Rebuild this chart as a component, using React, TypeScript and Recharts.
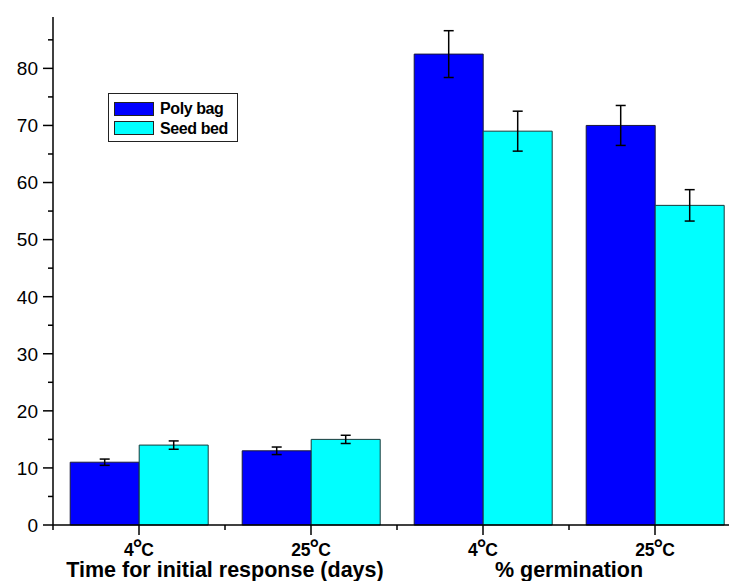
import React from 'react';
import { BarChart, Bar, XAxis, YAxis, ErrorBar, Legend } from 'recharts';

const categories = ['4°C', '25°C', '4°C', '25°C'];
const groupTitles = ['Time for initial response (days)', '% germination'];
const polyBag = [11, 13, 82.5, 70];
const polyBagErr = [0.55, 0.66, 4.1, 3.5];
const seedBed = [14, 15, 69, 56];
const seedBedErr = [0.73, 0.72, 3.5, 2.75];
const yTicks = [0, 5, 10, 15, 20, 25, 30, 35, 40, 45, 50, 55, 60, 65, 70, 75, 80, 85];
const yLabelStep = 10;

const FONT = '"Liberation Sans", Arial, Helvetica, sans-serif';

const data = categories.map((label, i) => ({
  label,
  polyBag: polyBag[i],
  polyBagErr: polyBagErr[i],
  seedBed: seedBed[i],
  seedBedErr: seedBedErr[i],
}));

const YTick = (props: any) => {
  const { x, y, payload } = props;
  const v = payload.value;
  const major = v % yLabelStep === 0;
  const len = major ? 10 : 5;
  return (
    <g>
      <line x1={x - len} x2={x} y1={y} y2={y} stroke="#000" strokeWidth={1.5} />
      {major && (
        <text x={x - len - 5} y={y} dy="0.36em" textAnchor="end" fontSize={19} fill="#000" fontFamily={FONT}>
          {v}
        </text>
      )}
    </g>
  );
};

const XTick = (props: any) => {
  const { x, y, payload, index } = props;
  const half = payload.offset ?? 0;
  const label: string = String(payload.value);
  const parts = label.split('°');
  return (
    <g>
      <line x1={x} x2={x} y1={y} y2={y + 10} stroke="#000" strokeWidth={1.5} />
      <line x1={x - half} x2={x - half} y1={y} y2={y + 5} stroke="#000" strokeWidth={1.5} />
      {index === categories.length - 1 && (
        <line x1={x + half} x2={x + half} y1={y} y2={y + 5} stroke="#000" strokeWidth={1.5} />
      )}
      <text x={x} y={y + 30.5} textAnchor="middle" fontSize={17.5} fontWeight="bold" fill="#000" fontFamily={FONT}>
        <tspan>{parts[0]}</tspan>
        {parts.length > 1 && <tspan fontSize={24} dx={-1}>°</tspan>}
        {parts.length > 1 && <tspan dx={-1}>{parts[1]}</tspan>}
      </text>
      {index % 2 === 0 && (
        <text x={x + half} y={y + 52} textAnchor="middle" fontSize={21.5} fontWeight="bold" fill="#000" fontFamily={FONT}>
          {groupTitles[index / 2]}
        </text>
      )}
    </g>
  );
};

const LegendBox = (props: any) => {
  const { payload } = props;
  return (
    <div
      style={{
        border: '1px solid #222',
        background: '#fff',
        width: 130,
        height: 49,
        boxSizing: 'border-box',
        paddingTop: 5,
        paddingLeft: 5,
      }}
    >
      {(payload || []).map((p: any) => (
        <div key={p.value} style={{ display: 'flex', alignItems: 'center', height: 19.5 }}>
          <span
            style={{
              display: 'inline-block',
              width: 40,
              height: 14,
              background: p.color,
              border: '1px solid #222',
              boxSizing: 'border-box',
            }}
          />
          <span
            style={{
              marginLeft: 6,
              fontWeight: 'bold',
              fontSize: 16,
              letterSpacing: -0.4,
              fontFamily: FONT,
              color: '#000',
              lineHeight: '19.5px',
            }}
          >
            {p.value}
          </span>
        </div>
      ))}
    </div>
  );
};

export default function App() {
  return (
    <div
      style={{
        position: 'fixed',
        top: 0,
        left: 0,
        width: 729,
        height: 581,
        overflow: 'hidden',
        background: '#fff',
      }}
    >
      <BarChart
        width={760}
        height={581}
        data={data}
        margin={{ top: 17, right: 19, bottom: 0, left: 0 }}
        barCategoryGap="10%"
        barGap={0}
      >
        <XAxis
          dataKey="label"
          height={56}
          interval={0}
          tickLine={false}
          tickSize={0}
          tickMargin={0}
          axisLine={{ stroke: '#000', strokeWidth: 1.5 }}
          tick={(p: any) => <XTick {...p} />}
        />
        <YAxis
          type="number"
          domain={[0, 89]}
          ticks={yTicks}
          interval={0}
          width={53}
          tickLine={false}
          tickSize={0}
          tickMargin={0}
          axisLine={{ stroke: '#000', strokeWidth: 1.5 }}
          tick={(p: any) => <YTick {...p} />}
        />
        <Legend
          layout="vertical"
          align="center"
          verticalAlign="middle"
          wrapperStyle={{ left: 108, top: 93, width: 130, height: 49 }}
          content={(p: any) => <LegendBox {...p} />}
        />
        <Bar dataKey="polyBag" name="Poly bag" fill="#0000FF" stroke="#1a1a3a" strokeWidth={1} isAnimationActive={false}>
          <ErrorBar dataKey="polyBagErr" width={5} stroke="#000" strokeWidth={1.5} />
        </Bar>
        <Bar dataKey="seedBed" name="Seed bed" fill="#00FFFF" stroke="#1a3a3a" strokeWidth={1} isAnimationActive={false}>
          <ErrorBar dataKey="seedBedErr" width={5} stroke="#000" strokeWidth={1.5} />
        </Bar>
      </BarChart>
    </div>
  );
}
